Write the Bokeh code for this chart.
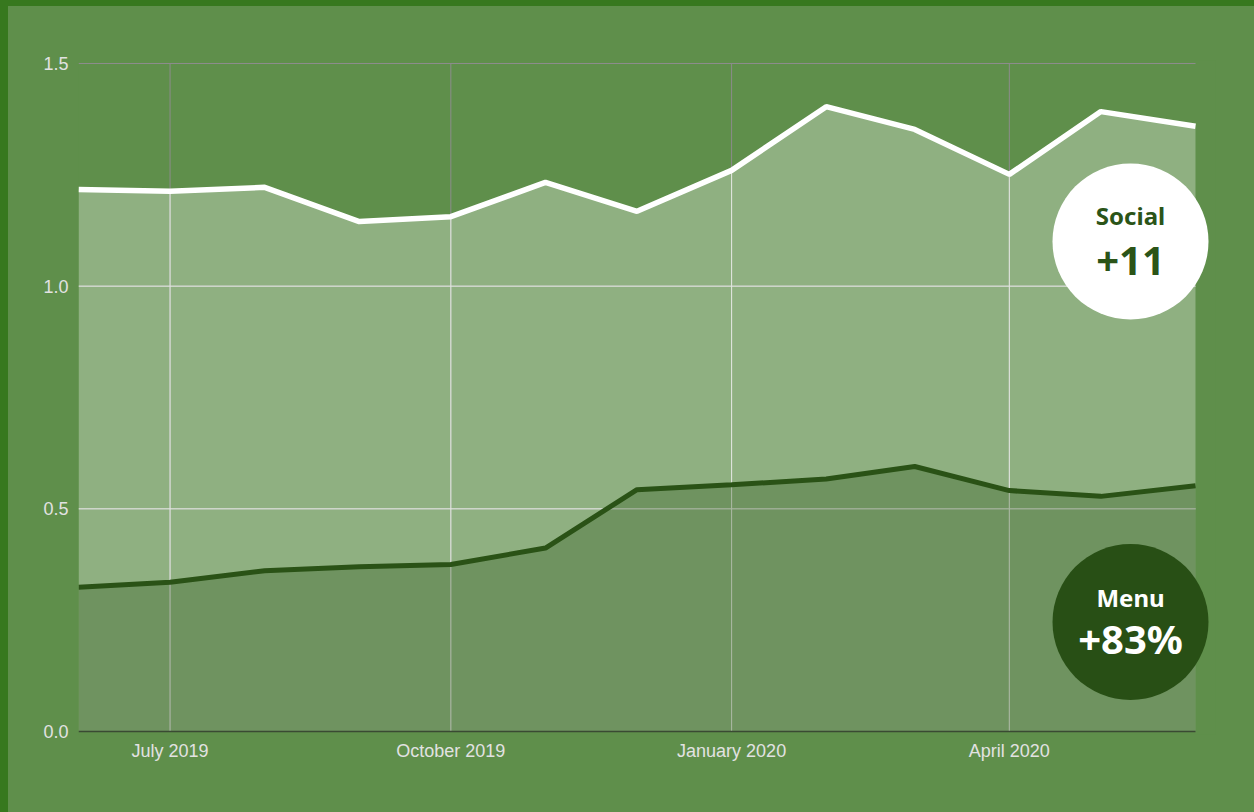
import numpy as np
import pandas as pd
from bokeh.plotting import figure
from bokeh.models import FixedTicker, NumeralTickFormatter, Range1d, GlobalInlineStyleSheet
from bokeh.core.properties import value
from bokeh.embed import file_html
from bokeh.resources import INLINE

# ---------------- data ----------------
months = ["2019-06-01", "2019-07-01", "2019-08-01", "2019-09-01", "2019-10-01",
          "2019-11-01", "2019-12-01", "2020-01-01", "2020-02-01", "2020-03-01",
          "2020-04-01", "2020-05-01", "2020-06-01"]
social = [1.217, 1.213, 1.222, 1.145, 1.156, 1.233, 1.168, 1.260, 1.403, 1.352,
          1.251, 1.392, 1.359]
menu = [0.324, 0.335, 0.361, 0.370, 0.375, 0.412, 0.543, 0.554, 0.567, 0.595,
        0.541, 0.528, 0.552]

x_ticks = ["2019-07-01", "2019-10-01", "2020-01-01", "2020-04-01"]
x_tick_labels = ["July 2019", "October 2019", "January 2020", "April 2020"]
y_ticks = [0.0, 0.5, 1.0, 1.5]

badge_titles = ["Social", "Menu"]
badge_values = ["+11", "+83%"]

# ---------------- colours ----------------
BG = "#5f8f4b"
EDGE = "#37781e"
DARK = "#284f15"
TEXT_DARK = "#2b5418"

# ---------------- layout (page pixels) ----------------
OFF_X, OFF_Y = 8, 6            # page offset of the figure
W, H = 1254 - OFF_X, 812 - OFF_Y
PX_LEFT, PX_DATA_RIGHT, PX_FRAME_RIGHT = 78, 1195, 1215
PY_ZERO, PY_TOP = 731, 63
PAD = 3

to_ms = lambda s: int(pd.Timestamp(s).value // 10**6)
xs = np.array([to_ms(m) for m in months], dtype=float)
tick_ms = [to_ms(t) for t in x_ticks]

ms_per_px = (xs[-1] - xs[0]) / (PX_DATA_RIGHT - PX_LEFT)
ppu = (PY_ZERO - PY_TOP) / (y_ticks[-1] - y_ticks[0])

def x_at(px):
    return xs[0] + (px - PX_LEFT) * ms_per_px

def y_at(py):
    return (PY_ZERO - py) / ppu

x_start = xs[0]
x_end = x_at(PX_FRAME_RIGHT)
y_start = -PAD / ppu
y_end = y_ticks[-1] + PAD / ppu

frame_top = PY_TOP - PAD
frame_bottom = PY_ZERO + PAD

p = figure(width=W, height=H, output_backend="svg", toolbar_location=None,
           x_range=Range1d(x_start, x_end), y_range=Range1d(y_start, y_end),
           min_border_left=PX_LEFT - OFF_X, min_border_top=frame_top - OFF_Y,
           min_border_bottom=H - (frame_bottom - OFF_Y),
           min_border_right=W - (PX_FRAME_RIGHT - OFF_X))
p.background_fill_color = BG
p.border_fill_color = BG
p.outline_line_color = None
p.grid.visible = False

p.stylesheets = [GlobalInlineStyleSheet(css=(
    "html{background: linear-gradient(to right, %s %dpx, transparent %dpx),"
    " linear-gradient(to bottom, %s %dpx, %s %dpx);}"
    "body{background: transparent; margin:0; padding:%dpx 0 0 %dpx; box-sizing:border-box;"
    " overflow:hidden;}" % (EDGE, OFF_X, OFF_X, EDGE, OFF_Y, BG, OFF_Y, OFF_Y, OFF_X)))]

# axes
p.xaxis.ticker = FixedTicker(ticks=tick_ms)
p.xaxis.major_label_overrides = {t: l for t, l in zip(tick_ms, x_tick_labels)}
p.yaxis.ticker = FixedTicker(ticks=y_ticks)
p.yaxis.formatter = NumeralTickFormatter(format="0.0")
for ax in (p.xaxis, p.yaxis):
    ax.axis_line_color = None
    ax.major_tick_line_color = None
    ax.minor_tick_line_color = None
    ax.major_tick_out = 0
    ax.major_tick_in = 0
    ax.minor_tick_out = 0
    ax.major_label_text_font = "Liberation Sans"
    ax.major_label_text_font_size = "18px"
    ax.major_label_text_color = "#e2e2e2"
p.xaxis.major_label_standoff = 6
p.yaxis.major_label_standoff = 10

# gray grid (over background)
gx0 = tick_ms
p.segment(x0=gx0, y0=[0] * len(gx0), x1=gx0, y1=[y_ticks[-1]] * len(gx0),
          line_color="#8c8c8c", line_width=1)
p.segment(x0=[xs[0]] * 3, y0=y_ticks[1:], x1=[xs[-1]] * 3, y1=y_ticks[1:],
          line_color="#8c8c8c", line_width=1)

# social area
p.varea(x=xs, y1=np.zeros(len(xs)), y2=social, fill_color="white", fill_alpha=0.3)

# light grid inside social area
top_at_ticks = np.interp(tick_ms, xs, social)
p.segment(x0=gx0, y0=[0] * len(gx0), x1=gx0, y1=top_at_ticks,
          line_color="#e3e9e0", line_width=1)
p.segment(x0=[xs[0]] * 2, y0=y_ticks[1:3], x1=[xs[-1]] * 2, y1=y_ticks[1:3],
          line_color="#e3e9e0", line_width=1)

# menu area
p.varea(x=xs, y1=np.zeros(len(xs)), y2=menu, fill_color=DARK, fill_alpha=0.3)

# lines
p.line(xs, social, line_color="white", line_width=5.5)
p.line(xs, menu, line_color="#2a5216", line_width=5)

# baseline
p.segment(x0=[xs[0]], y0=[0], x1=[xs[-1]], y1=[0], line_color="#3a4a33", line_width=1.5)

# badges
cx = x_at(1130)
p.scatter(x=[cx, cx], y=[y_at(241), y_at(621.5)], size=156, marker="circle",
          fill_color=["white", DARK], line_color=None)
p.text(x=[cx, cx], y=[y_at(215), y_at(597)], text=badge_titles,
       text_font=value("Noto Sans"), text_font_style="bold", text_font_size="24px",
       text_align="center", text_baseline="alphabetic", text_color=[TEXT_DARK, "white"])
p.text(x=[cx, cx], y=[y_at(260), y_at(638)], text=badge_values,
       text_font=value("Noto Sans"), text_font_style="bold", text_font_size="40px",
       text_align="center", text_baseline="alphabetic", text_color=[TEXT_DARK, "white"])

open("out.html", "w").write(file_html(p, INLINE))
